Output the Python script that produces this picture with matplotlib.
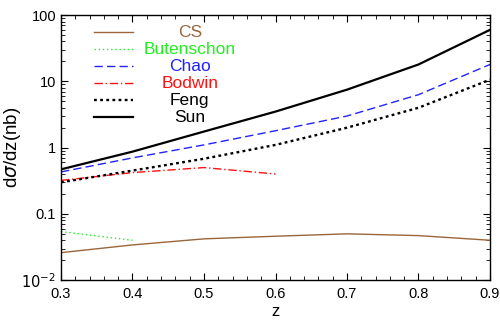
import numpy as np
import matplotlib.pyplot as plt
from matplotlib.ticker import FixedLocator, LogLocator, NullFormatter

plt.rcParams['font.family'] = ['Liberation Sans', 'DejaVu Sans']

# ---------------- datos ----------------
z = [0.3, 0.4, 0.5, 0.6, 0.7, 0.8, 0.9]
cs = [0.026, 0.034, 0.042, 0.046, 0.050, 0.047, 0.040]
z_but = [0.3, 0.4]
butenschon = [0.054, 0.040]
chao = [0.43, 0.70, 1.1, 1.8, 3.0, 6.3, 18.0]
z_bod = [0.3, 0.4, 0.5, 0.6]
bodwin = [0.32, 0.42, 0.50, 0.40]
feng = [0.30, 0.45, 0.68, 1.1, 2.0, 4.0, 10.6]
sun = [0.47, 0.87, 1.75, 3.5, 7.5, 18.0, 60.0]

xticks = [0.3, 0.4, 0.5, 0.6, 0.7, 0.8, 0.9]
xticklabels = ['0.3', '0.4', '0.5', '0.6', '0.7', '0.8', '0.9']
yticks = [0.01, 0.1, 1, 10, 100]
yticklabels = ['$10^{-2}$', '0.1', '1', '10', '100']

fig = plt.figure(figsize=(5, 3.22), dpi=100)
ax = fig.add_axes([0.122, 0.130, 0.858, 0.823])

series = [
    (z, cs, '#99663a', '-', 1.0, 'CS'),
    (z_but, butenschon, '#22ee22', (0, (1, 2)), 1.0, 'Butenschon'),
    (z, chao, '#2222ff', (0, (6, 3)), 1.0, 'Chao'),
    (z_bod, bodwin, '#ff1111', (0, (6, 2, 1, 2)), 1.0, 'Bodwin'),
    (z, feng, 'black', (0, (1.2, 1.4)), 1.7, 'Feng'),
    (z, sun, 'black', '-', 1.6, 'Sun'),
]
for xs, ys, col, ls, lw, lab in series:
    ax.plot(xs, ys, color=col, linestyle=ls, linewidth=lw)

ax.set_yscale('log')
ax.set_xlim(0.3, 0.9)
ax.set_ylim(0.01, 100)
ax.set_xticks(xticks)
ax.set_xticklabels(xticklabels)
ax.xaxis.set_minor_locator(FixedLocator(np.arange(0.3, 0.9001, 0.02)))
ax.set_yticks(yticks)
ax.set_yticklabels(yticklabels)
ax.yaxis.set_minor_locator(LogLocator(base=10, subs=np.arange(2, 10)))
ax.yaxis.set_minor_formatter(NullFormatter())
ax.tick_params(which='both', direction='in', top=True, right=True, labelsize=10.5)
ax.tick_params(axis='x', pad=5)
ax.tick_params(which='major', length=5)
ax.tick_params(which='minor', length=3)
for s in ax.spines.values():
    s.set_linewidth(1.0)

ax.set_xlabel('z', fontsize=12, labelpad=2)
ax.set_ylabel(r'd$\sigma$/dz(nb)', fontsize=13.5)
ax.yaxis.set_label_coords(-0.088, 0.5)

# ------------- leyenda manual -------------
y0 = 0.935
dy = 0.064
for i, (xs, ys, col, ls, lw, lab) in enumerate(series):
    yy = y0 - i * dy
    ax.plot([0.078, 0.167], [yy, yy], transform=ax.transAxes,
            color=col, linestyle=ls, linewidth=lw)
    ax.text(0.30, yy, lab, transform=ax.transAxes, color=col,
            ha='center', va='center', fontsize=12.5)

fig.savefig('out.png', dpi=100)
